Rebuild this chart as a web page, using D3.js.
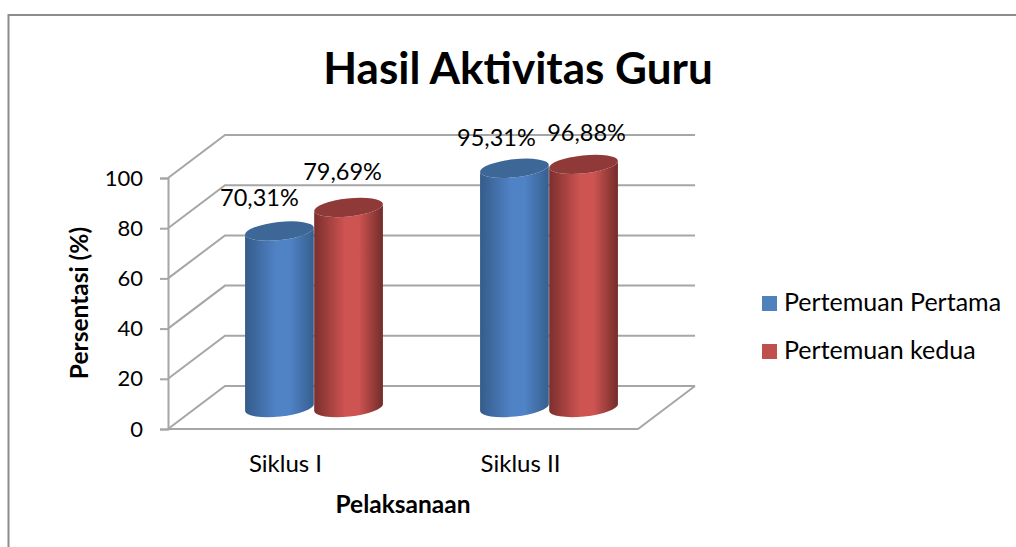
<!DOCTYPE html>
<html>
<head>
<meta charset="utf-8">
<script src="https://cdnjs.cloudflare.com/ajax/libs/d3/7.8.5/d3.min.js"></script>
<style>
  html, body { margin: 0; padding: 0; background: #fff; }
  svg { display: block; }
  text { font-family: Lato, "Open Sans", sans-serif; fill: #000; }
</style>
</head>
<body>
<div id="chart"></div>
<script>
var categories = ['Siklus I', 'Siklus II'];
var seriesNames = ['Pertemuan Pertama', 'Pertemuan kedua'];
var pertemuanPertama = [70.31, 95.31];
var pertemuanKedua = [79.69, 96.88];
var valueLabelsPertama = ['70,31%', '95,31%'];
var valueLabelsKedua = ['79,69%', '96,88%'];
var yTicks = [0, 20, 40, 60, 80, 100];

var width = 1016, height = 547;

var svg = d3.select('#chart').append('svg')
  .attr('width', width)
  .attr('height', height);

var defs = svg.append('defs');

// Horizontal shading that makes the bars look round
function addGradient(id, edgeLeft, mid, edgeRight) {
  var g = defs.append('linearGradient').attr('id', id)
    .attr('x1', '0%').attr('y1', '0%').attr('x2', '100%').attr('y2', '0%');
  g.append('stop').attr('offset', '0%').attr('stop-color', edgeLeft);
  g.append('stop').attr('offset', '45%').attr('stop-color', mid);
  g.append('stop').attr('offset', '65%').attr('stop-color', mid);
  g.append('stop').attr('offset', '100%').attr('stop-color', edgeRight);
}
addGradient('grad-blue', '#355c8a', '#5082c6', '#365f8e');
addGradient('grad-red', '#7c2f2d', '#cd5451', '#732c2a');

var seriesStyle = [
  { grad: 'url(#grad-blue)', top: '#3d6796', legend: '#4f81bd' },
  { grad: 'url(#grad-red)', top: '#8f3a38', legend: '#c0504d' }
];

// Chart frame, cut off by the crop on the right and bottom
svg.append('path')
  .attr('d', 'M8.5,547 V15 H1016')
  .attr('fill', 'none')
  .attr('stroke', '#8c8c8c')
  .attr('stroke-width', 2);

// Scales for the front plane of the 3D box
var x0 = d3.scaleBand().domain(categories).range([168, 638]);
var x1 = d3.scaleBand().domain(seriesNames)
  .range([0, x0.bandwidth()])
  .paddingOuter(0.7);
var y = d3.scaleLinear().domain([0, 100]).range([429, 178]);

// Depth offset from the front plane to the back wall
var depthX = 57, depthY = -43;

var gridColor = '#a6a6a6';
var walls = svg.append('g')
  .attr('fill', 'none')
  .attr('stroke', gridColor)
  .attr('stroke-width', 2);

// Back wall lines and side wall lines
yTicks.forEach(function(t) {
  walls.append('path')
    .attr('d', 'M' + x0.range()[0] + ',' + y(t) +
      ' L' + (x0.range()[0] + depthX) + ',' + (y(t) + depthY) +
      ' H' + (x0.range()[1] + depthX));
});

// Floor front edge and right edge
walls.append('path')
  .attr('d', 'M' + x0.range()[0] + ',' + y(0) +
    ' H' + x0.range()[1] +
    ' L' + (x0.range()[1] + depthX) + ',' + (y(0) + depthY));

// Value axis
var yAxis = d3.axisLeft(y).tickValues(yTicks).tickSize(8).tickPadding(17);
var yAxisG = svg.append('g')
  .attr('transform', 'translate(' + x0.range()[0] + ',0)')
  .call(yAxis);
yAxisG.selectAll('.domain').attr('stroke', '#a6a6a6').attr('stroke-width', 2);
yAxisG.selectAll('.tick line').attr('stroke', '#a6a6a6').attr('stroke-width', 2);
yAxisG.selectAll('text').style('font-size', '22px').style('fill', '#000');

// Category labels
svg.append('g').selectAll('text')
  .data(categories)
  .join('text')
  .attr('x', function(d) { return x0(d) + x0.bandwidth() / 2; })
  .attr('y', 472)
  .attr('text-anchor', 'middle')
  .style('font-size', '24px')
  .text(function(d) { return d; });

// Cylinders sit half way along the depth of the box
var tilt = -6;
var ry = 9;
var rx = x1.bandwidth() / 2;
var dx = rx * Math.cos(tilt * Math.PI / 180);
var dy = rx * Math.sin(tilt * Math.PI / 180);

function cylinderBody(cx, yTop, yBase) {
  return 'M' + (cx - dx) + ',' + (yTop - dy) +
    ' L' + (cx - dx) + ',' + (yBase - dy) +
    ' A' + rx + ',' + ry + ' ' + tilt + ' 0 0 ' + (cx + dx) + ',' + (yBase + dy) +
    ' L' + (cx + dx) + ',' + (yTop + dy) +
    ' A' + rx + ',' + ry + ' ' + tilt + ' 0 1 ' + (cx - dx) + ',' + (yTop - dy) + ' Z';
}

var seriesValues = [pertemuanPertama, pertemuanKedua];
var seriesLabels = [valueLabelsPertama, valueLabelsKedua];
// These labels were dragged by hand in the original, so each has its own nudge
var labelNudge = [[[-20, -25], [-18, -22]], [[-6, -27], [3, -23]]];

categories.forEach(function(cat, i) {
  seriesNames.forEach(function(name, s) {
    var v = seriesValues[s][i];
    var cx = x0(cat) + x1(name) + x1.bandwidth() / 2 + depthX / 2;
    var yTop = y(v) + depthY / 2;
    var yBase = y(0) + depthY / 2;

    svg.append('path')
      .attr('d', cylinderBody(cx, yTop, yBase))
      .attr('fill', seriesStyle[s].grad);

    svg.append('ellipse')
      .attr('cx', cx).attr('cy', yTop)
      .attr('rx', rx).attr('ry', ry)
      .attr('transform', 'rotate(' + tilt + ' ' + cx + ' ' + yTop + ')')
      .attr('fill', seriesStyle[s].top);
  });
});

// Data labels go on top of everything
categories.forEach(function(cat, i) {
  seriesNames.forEach(function(name, s) {
    var v = seriesValues[s][i];
    var cx = x0(cat) + x1(name) + x1.bandwidth() / 2 + depthX / 2;
    svg.append('text')
      .attr('x', cx + labelNudge[s][i][0])
      .attr('y', y(v) + depthY / 2 + labelNudge[s][i][1])
      .attr('text-anchor', 'middle')
      .style('font-size', '23.5px')
      .text(seriesLabels[s][i]);
  });
});

// Title and axis titles
svg.append('text')
  .attr('x', 518).attr('y', 84)
  .attr('text-anchor', 'middle')
  .style('font-size', '44px')
  .style('font-weight', 'bold')
  .text('Hasil Aktivitas Guru');

svg.append('text')
  .attr('transform', 'translate(88,303) rotate(-90)')
  .attr('text-anchor', 'middle')
  .style('font-size', '24.5px')
  .style('font-weight', 'bold')
  .text('Persentasi (%)');

svg.append('text')
  .attr('x', 403).attr('y', 513)
  .attr('text-anchor', 'middle')
  .style('font-size', '24.5px')
  .style('font-weight', 'bold')
  .text('Pelaksanaan');

// Legend
var legend = svg.append('g').selectAll('g')
  .data(seriesNames)
  .join('g')
  .attr('transform', function(d, i) { return 'translate(762,' + (296 + i * 48) + ')'; });
legend.append('rect')
  .attr('width', 15).attr('height', 15)
  .attr('fill', function(d, i) { return seriesStyle[i].legend; });
legend.append('text')
  .attr('x', 22).attr('y', 15)
  .style('font-size', '25px')
  .text(function(d) { return d; });
</script>
</body>
</html>
